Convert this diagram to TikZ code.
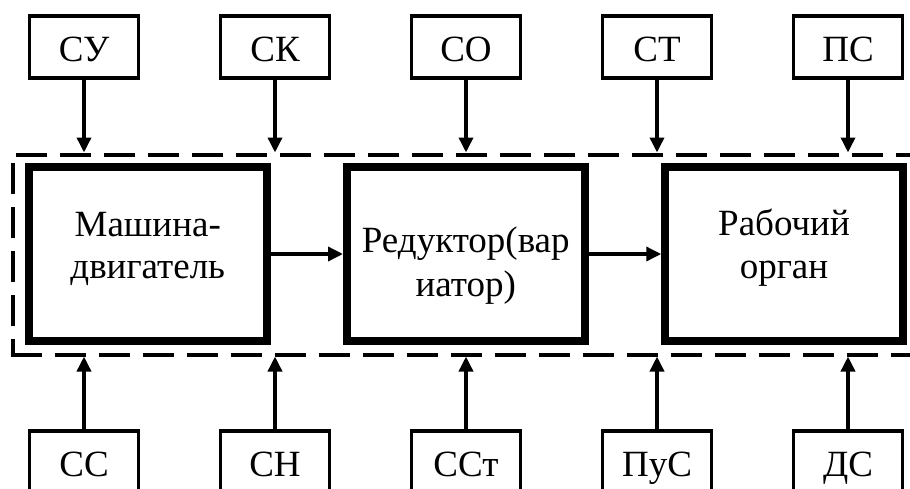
\documentclass[tikz,border=0pt]{standalone}
\usepackage{fontspec}
\setmainfont{Liberation Serif}
\usetikzlibrary{arrows.meta}
\begin{document}
\begin{tikzpicture}[x=1pt,y=-1pt,
  sbox/.style={draw, line width=3.5pt, minimum width=109pt, minimum height=62pt,
    inner sep=0pt, text height=29.4pt, text depth=0pt, font=\fontsize{37}{42}\selectfont},
  mbox/.style={draw, line width=7.5pt, minimum width=238pt, minimum height=174pt, inner sep=0pt},
  txt/.style={anchor=base, inner sep=0pt, font=\fontsize{37}{42}\selectfont},
  arr/.style={line width=3.5pt, -{Triangle[length=15pt,width=14pt]}},
  dline/.style={line width=4pt, dash pattern=on 31pt off 13pt}
]
\useasboundingbox (0,0) rectangle (910,488);
\clip (0,0) rectangle (910,488);

% dashed system boundary
\draw[dline, dash phase=40pt] (12,154.5) -- (920,154.5);
\draw[dline, dash phase=35.5pt] (12.5,154.5) -- (12.5,354.5);
\draw[dline] (10.5,354.5) -- (920,354.5);

% top boxes
\node[sbox] (su) at (84,47) {СУ};
\node[sbox] (sk) at (275,47) {СК};
\node[sbox] (so) at (466,47) {СО};
\node[sbox] (st) at (657,47) {СТ};
\node[sbox] (ps) at (848,47) {ПС};

% bottom boxes
\node[sbox] (ss) at (84,462) {СС};
\node[sbox] (sn) at (275,462) {СН};
\node[sbox] (sst) at (466,462) {ССт};
\node[sbox] (pus) at (657,462) {ПуС};
\node[sbox] (ds) at (848,462) {ДС};

% main boxes
\node[mbox] (m1) at (147.75,254) {};
\node[mbox] (m2) at (465.75,254) {};
\node[mbox] (m3) at (784,254) {};

\node[txt] (t1a) at (147.75,236.7) {Машина-};
\node[txt] (t1b) at (147.75,278.3) {двигатель};
\node[txt] (t2a) at (465.75,252.7) {Редуктор(вар};
\node[txt] (t2b) at (465.75,296) {иатор)};
\node[txt] (t3a) at (784,235) {Рабочий};
\node[txt] (t3b) at (784,278) {орган};

% arrow end points on the boundary
\coordinate (e1) at (84,152.5);
\coordinate (e2) at (275,152.5);
\coordinate (e3) at (466,152.5);
\coordinate (e4) at (657,152.5);
\coordinate (e5) at (848,152.5);
\coordinate (f1) at (84,356.5);
\coordinate (f2) at (275,356.5);
\coordinate (f3) at (466,356.5);
\coordinate (f4) at (657,356.5);
\coordinate (f5) at (848,356.5);

\draw[arr] (su) -- (e1);
\draw[arr] (sk) -- (e2);
\draw[arr] (so) -- (e3);
\draw[arr] (st) -- (e4);
\draw[arr] (ps) -- (e5);
\draw[arr] (ss) -- (f1);
\draw[arr] (sn) -- (f2);
\draw[arr] (sst) -- (f3);
\draw[arr] (pus) -- (f4);
\draw[arr] (ds) -- (f5);

\draw[arr] (m1) -- (m2);
\draw[arr] (m2) -- (m3);
\end{tikzpicture}
\end{document}
